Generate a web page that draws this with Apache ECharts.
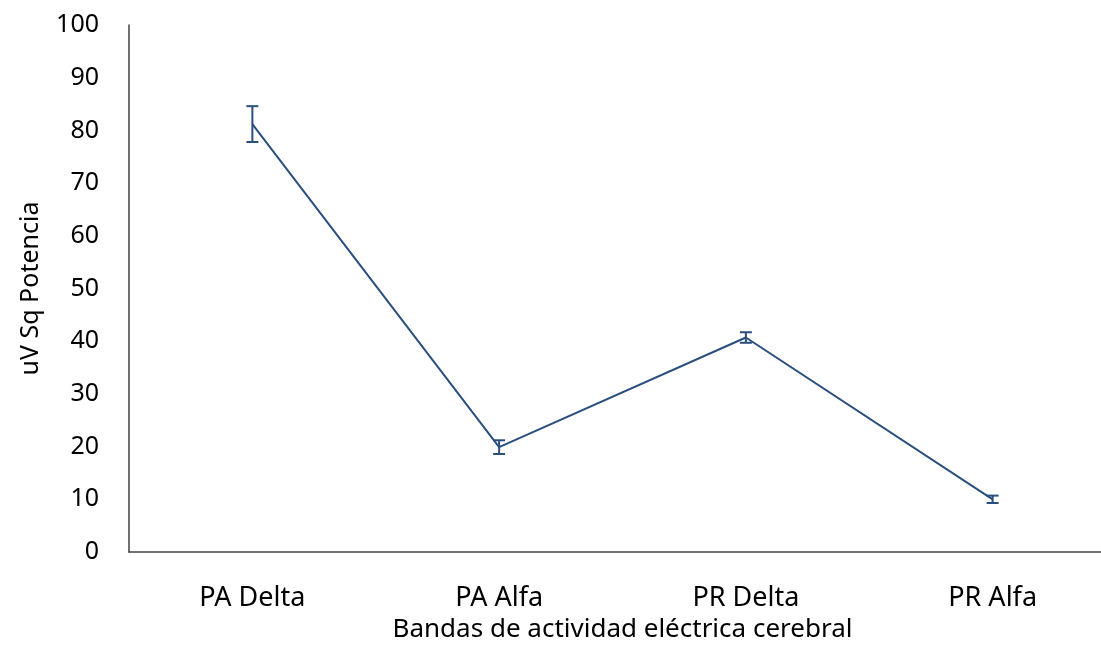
<!DOCTYPE html>
<html lang="es">
<head>
    <meta charset="utf-8" />
    <style>
        html, body { margin: 0; padding: 0; background: #fff; }
        #chart { width: 1101px; height: 654px; }
    </style>
</head>
<body>
<div id="chart"></div>
<script src="https://cdn.jsdelivr.net/npm/echarts@6/dist/echarts.min.js"></script>
<script>
    // datos
    var categorias = ["PA Delta", "PA Alfa", "PR Delta", "PR Alfa"];
    var potencia = [81.2, 19.9, 40.7, 10.0];
    var errores = [3.4, 1.3, 1.0, 0.7];

    var colorLinea = "#2A4F7E";
    var fuente = "Noto Sans";

    var barrasError = categorias.map(function (c, i) {
        return [i, potencia[i] - errores[i], potencia[i] + errores[i]];
    });

    var chart = echarts.init(document.getElementById("chart"));

    chart.setOption({
        animation: false,
        grid: { left: 129, top: 25, width: 987, height: 527, outerBoundsMode: "none", containLabel: false },
        xAxis: {
            type: "category",
            data: categorias,
            boundaryGap: true,
            name: "Bandas de actividad eléctrica cerebral",
            nameLocation: "middle",
            nameGap: 64,
            nameTextStyle: { fontFamily: fuente, fontSize: 26, color: "#000" },
            axisLine: { lineStyle: { color: "#404040", width: 1.5 } },
            axisTick: { show: false },
            axisLabel: { fontFamily: fuente, fontSize: 27, color: "#000", margin: 33, interval: 0 }
        },
        yAxis: {
            type: "value",
            min: 0,
            max: 100,
            interval: 10,
            name: "uV Sq Potencia",
            nameLocation: "middle",
            nameGap: 86,
            nameTextStyle: { fontFamily: fuente, fontSize: 25, color: "#000" },
            axisLine: { show: true, lineStyle: { color: "#404040", width: 1.5 } },
            axisTick: { show: false },
            splitLine: { show: false },
            axisLabel: { fontFamily: fuente, fontSize: 25, color: "#000", margin: 30 }
        },
        series: [
            {
                type: "line",
                data: potencia,
                symbol: "none",
                lineStyle: { color: colorLinea, width: 2 },
                z: 2
            },
            {
                type: "custom",
                data: barrasError,
                z: 3,
                renderItem: function (params, api) {
                    var x = api.value(0);
                    var abajo = api.coord([x, api.value(1)]);
                    var arriba = api.coord([x, api.value(2)]);
                    var media = 6;
                    var estilo = { stroke: colorLinea, lineWidth: 2 };
                    return {
                        type: "group",
                        children: [
                            { type: "line", shape: { x1: abajo[0], y1: abajo[1], x2: arriba[0], y2: arriba[1] }, style: estilo },
                            { type: "line", shape: { x1: abajo[0] - media, y1: abajo[1], x2: abajo[0] + media, y2: abajo[1] }, style: estilo },
                            { type: "line", shape: { x1: arriba[0] - media, y1: arriba[1], x2: arriba[0] + media, y2: arriba[1] }, style: estilo }
                        ]
                    };
                }
            }
        ]
    });
</script>
</body>
</html>
